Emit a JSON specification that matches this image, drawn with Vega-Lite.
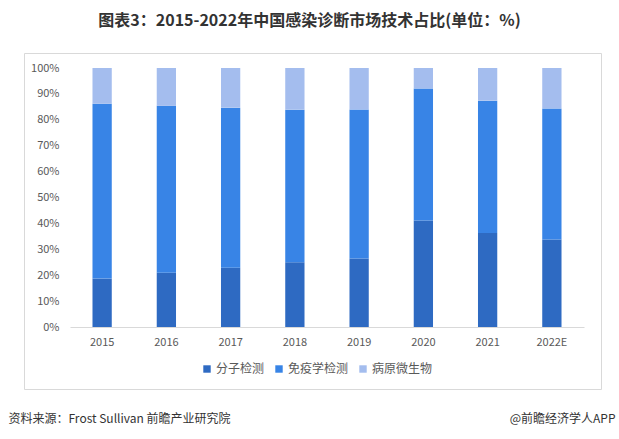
{
  "$schema": "https://vega.github.io/schema/vega-lite/v6.json",
  "width": 577,
  "height": 336,
  "autosize": {"type": "none"},
  "padding": {"left": 24, "top": 53, "right": 18, "bottom": 50},
  "background": "white",
  "config": {
    "font": "Noto Sans CJK SC",
    "view": {"stroke": "#D9D9D9", "strokeWidth": 1}
  },
  "title": {
    "text": "图表3：2015-2022年中国感染诊断市场技术占比(单位：%)",
    "fontSize": 16,
    "fontWeight": "bold",
    "color": "#333333",
    "anchor": "middle",
    "dx": -3,
    "offset": 24
  },
  "data": {
    "values": [
      {"year": "2015", "type": "分子检测", "value": 18.7},
      {"year": "2015", "type": "免疫学检测", "value": 67.5},
      {"year": "2015", "type": "病原微生物", "value": 13.8},
      {"year": "2016", "type": "分子检测", "value": 20.9},
      {"year": "2016", "type": "免疫学检测", "value": 64.5},
      {"year": "2016", "type": "病原微生物", "value": 14.6},
      {"year": "2017", "type": "分子检测", "value": 22.9},
      {"year": "2017", "type": "免疫学检测", "value": 61.8},
      {"year": "2017", "type": "病原微生物", "value": 15.3},
      {"year": "2018", "type": "分子检测", "value": 25.0},
      {"year": "2018", "type": "免疫学检测", "value": 58.9},
      {"year": "2018", "type": "病原微生物", "value": 16.1},
      {"year": "2019", "type": "分子检测", "value": 26.4},
      {"year": "2019", "type": "免疫学检测", "value": 57.6},
      {"year": "2019", "type": "病原微生物", "value": 16.0},
      {"year": "2020", "type": "分子检测", "value": 41.1},
      {"year": "2020", "type": "免疫学检测", "value": 51.0},
      {"year": "2020", "type": "病原微生物", "value": 7.9},
      {"year": "2021", "type": "分子检测", "value": 36.3},
      {"year": "2021", "type": "免疫学检测", "value": 51.1},
      {"year": "2021", "type": "病原微生物", "value": 12.6},
      {"year": "2022E", "type": "分子检测", "value": 33.8},
      {"year": "2022E", "type": "免疫学检测", "value": 50.6},
      {"year": "2022E", "type": "病原微生物", "value": 15.6}
    ]
  },
  "transform": [
    {"calculate": "indexof(['分子检测','免疫学检测','病原微生物'], datum.type)", "as": "stackOrder"}
  ],
  "mark": {"type": "bar"},
  "encoding": {
    "x": {
      "field": "year",
      "type": "ordinal",
      "sort": null,
      "scale": {"range": [46, 560], "paddingInner": 0.7, "paddingOuter": 0.35},
      "axis": {
        "offset": -62,
        "labelAngle": 0,
        "labelFontSize": 11,
        "labelColor": "#595959",
        "labelPadding": 9,
        "ticks": false,
        "domainColor": "#D9D9D9",
        "title": "@前瞻经济学人APP",
        "titleFontSize": 12,
        "titleFontWeight": "normal",
        "titleColor": "#333333",
        "titleAlign": "right",
        "titleBaseline": "middle",
        "titleX": 591,
        "titleY": 91
      }
    },
    "y": {
      "field": "value",
      "type": "quantitative",
      "stack": "normalize",
      "scale": {"range": [274, 15], "domain": [0, 1]},
      "axis": {
        "offset": -37,
        "values": [0, 0.1, 0.2, 0.3, 0.4, 0.5, 0.6, 0.7, 0.8, 0.9, 1],
        "format": ".0%",
        "grid": false,
        "domain": false,
        "ticks": false,
        "labelPadding": 2,
        "labelFontSize": 11,
        "labelColor": "#595959",
        "title": "资料来源：Frost Sullivan 前瞻产业研究院",
        "titleAngle": 0,
        "titleFontSize": 12,
        "titleFontWeight": "normal",
        "titleColor": "#333333",
        "titleAlign": "left",
        "titleBaseline": "middle",
        "titleX": -53,
        "titleY": 365
      }
    },
    "order": {"field": "stackOrder", "type": "quantitative", "sort": "ascending"},
    "color": {
      "field": "type",
      "type": "nominal",
      "sort": ["分子检测", "免疫学检测", "病原微生物"],
      "scale": {
        "domain": ["分子检测", "免疫学检测", "病原微生物"],
        "range": ["#2E6AC2", "#3884E6", "#A4BDEE"]
      },
      "legend": {
        "orient": "none",
        "direction": "horizontal",
        "legendX": 177,
        "legendY": 310,
        "title": null,
        "symbolType": "square",
        "symbolSize": 55,
        "symbolStrokeWidth": 0,
        "labelFontSize": 12,
        "labelColor": "#595959",
        "columnPadding": 8,
        "labelOffset": 3
      }
    }
  }
}
